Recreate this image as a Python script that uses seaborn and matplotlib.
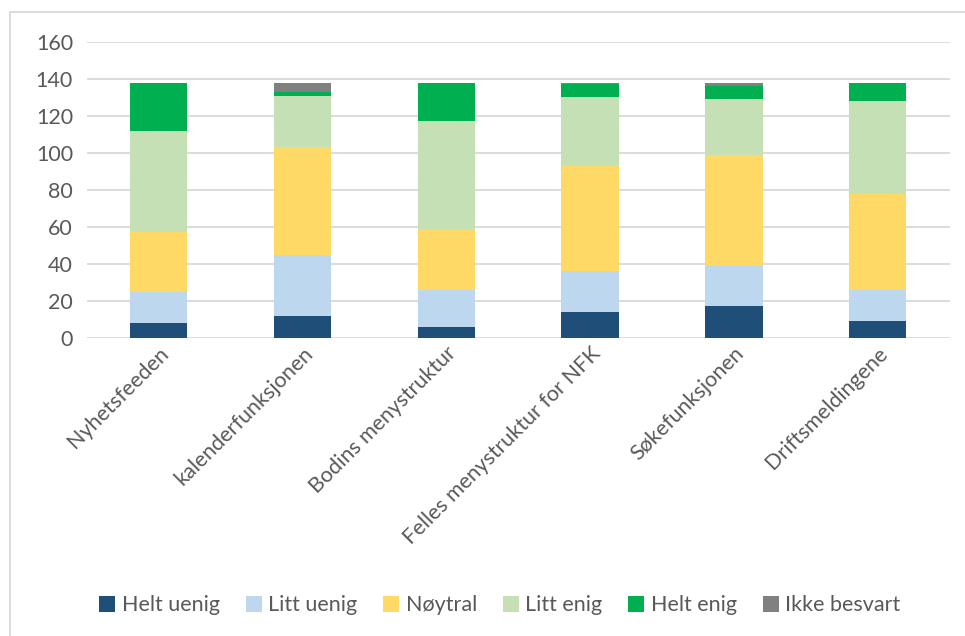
import numpy as np
import pandas as pd
import matplotlib
matplotlib.use("Agg")
import matplotlib.pyplot as plt
import seaborn as sns
from matplotlib.patches import Patch, Rectangle

categories = ["Nyhetsfeeden", "kalenderfunksjonen", "Bodins menystruktur",
              "Felles menystruktur for NFK", "Søkefunksjonen", "Driftsmeldingene"]
series_names = ["Helt uenig", "Litt uenig", "Nøytral", "Litt enig", "Helt enig", "Ikke besvart"]
helt_uenig = [8, 12, 6, 14, 17, 9]
litt_uenig = [17, 33, 20, 22, 22, 17]
noytral = [32, 58, 33, 57, 60, 52]
litt_enig = [55, 28, 58, 37, 30, 50]
helt_enig = [26, 2, 21, 7, 7, 10]
ikke_besvart = [0, 5, 0, 1, 2, 0]
colors = ["#1f4e79", "#bdd7ee", "#ffd966", "#c5e0b4", "#00b050", "#808080"]

series = [helt_uenig, litt_uenig, noytral, litt_enig, helt_enig, ikke_besvart]

sns.set_style("white")
plt.rcParams["font.family"] = ["Lato", "DejaVu Sans"]
text_color = "#595959"

fig = plt.figure(figsize=(9.65, 6.36), dpi=100)
ax = fig.add_axes([0.090, 0.469, 0.894, 0.465])

# stacked bars, one barplot call per answer category
bottom = np.zeros(len(categories))
for name, vals, c in zip(series_names, series, colors):
    sns.barplot(x=categories, y=vals, bottom=bottom, color=c, width=0.4,
                ax=ax, saturation=1, linewidth=0, label=name)
    bottom += np.array(vals)

ax.set_ylim(0, 160)
ax.set_yticks(range(0, 161, 20))
ax.yaxis.grid(True, color="#d9d9d9", linewidth=1.3)
ax.set_axisbelow(True)
for s in ax.spines.values():
    s.set_visible(False)
ax.tick_params(axis="both", length=0, labelsize=15.5, colors=text_color, pad=10)
ax.tick_params(axis="x", pad=4)
plt.setp(ax.get_xticklabels(), rotation=45, ha="right", rotation_mode="anchor")
ax.set_xlabel("")
ax.set_ylabel("")
if ax.get_legend():
    ax.get_legend().remove()

handles = [Patch(facecolor=c, edgecolor="none") for c in colors]
fig.legend(handles, series_names, loc="center", bbox_to_anchor=(0.518, 0.048),
           ncol=6, frameon=False, fontsize=15.5, labelcolor=text_color,
           handlelength=0.75, handleheight=0.75, handletextpad=0.3, columnspacing=1.2)

fig.patches.append(Rectangle((10 / 965, -0.1), 1.2, 1 - 12 / 636 + 0.1,
                             transform=fig.transFigure, fill=False,
                             edgecolor="#d9d9d9", linewidth=1.3))

fig.savefig("out.png", dpi=100)
